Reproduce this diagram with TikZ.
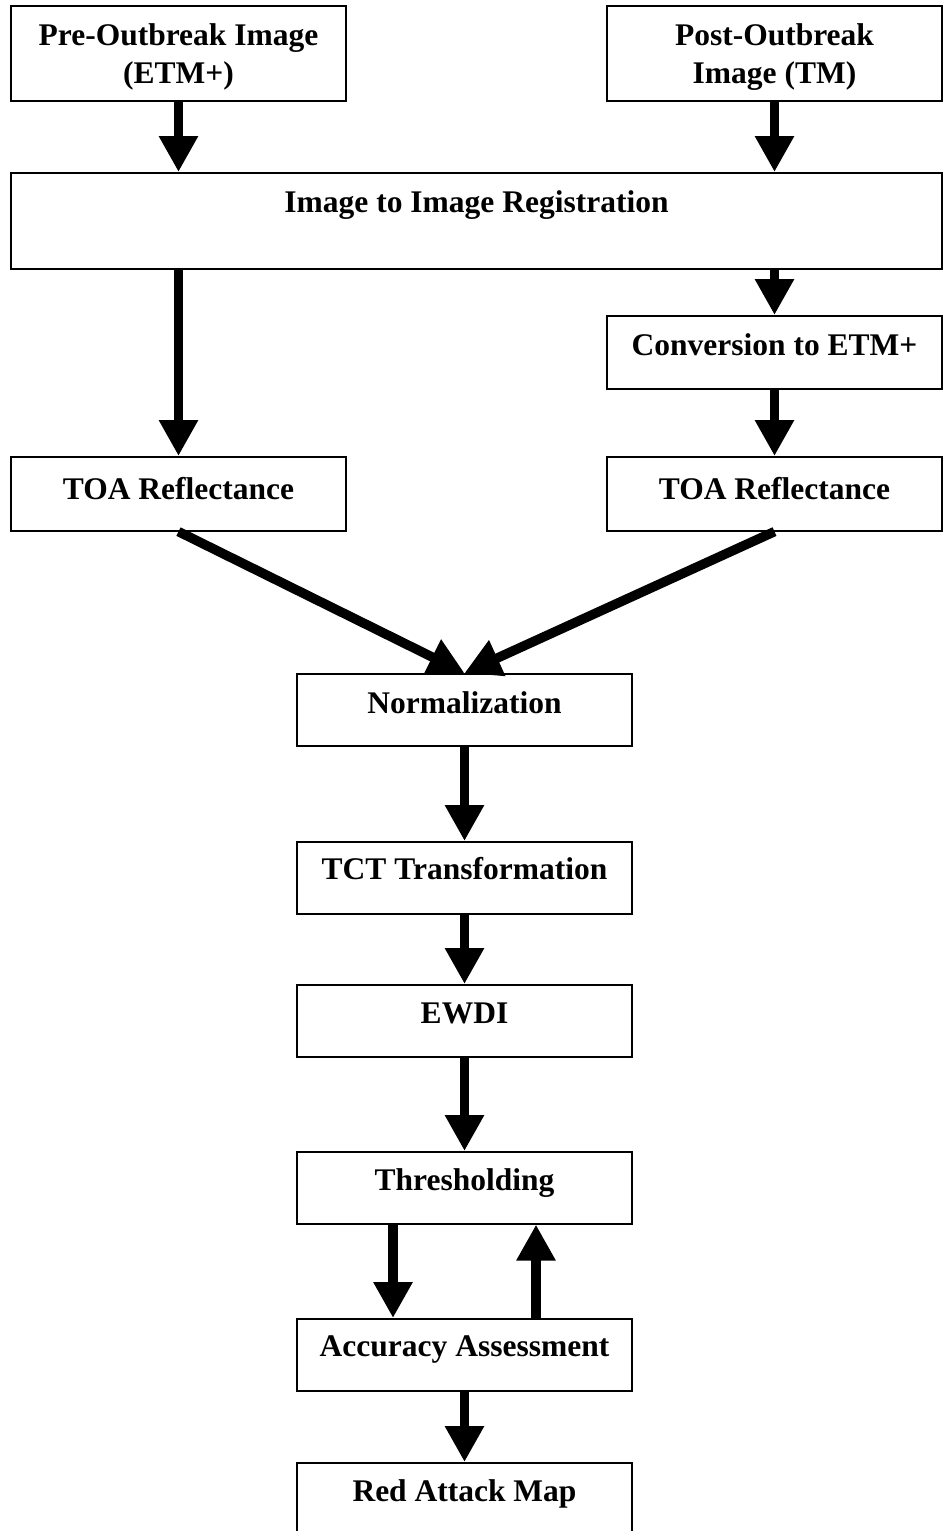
\documentclass[tikz,border=0pt]{standalone}
\usepackage{fontspec}
\setmainfont{Liberation Serif}
\usetikzlibrary{arrows.meta}
\tikzset{
  box/.style={draw=black, line width=1.6pt, rectangle, minimum width=335pt, inner xsep=0pt, inner ysep=0pt, anchor=north,
    font=\bfseries\fontsize{31.5}{38}\selectfont, align=center},
  flow/.style={line width=9.5pt, -{Triangle[length=36pt,width=37pt]}}
}
\begin{document}
\begin{tikzpicture}[x=1pt,y=-1pt]
\clip (0,0) rectangle (948,1531);
\fill[white] (0,0) rectangle (948,1531);
\node[box, text height=40pt, text depth=55pt] (pre) at (178.5,5) {\begin{tabular}[t]{@{}c@{}}Pre-Outbreak Image\\(ETM+)\end{tabular}};
\node[box, text height=40pt, text depth=55pt] (post) at (774.5,5) {\begin{tabular}[t]{@{}c@{}}Post-Outbreak\\Image (TM)\end{tabular}};
\node[box, minimum width=931pt, text height=40pt, text depth=56pt] (reg) at (476.5,172) {Image to Image Registration};
\node[box, text height=40pt, text depth=33pt] (conv) at (774.5,315) {Conversion to ETM+};
\node[box, text height=43pt, text depth=31pt] (toaL) at (178.5,456) {TOA Reflectance};
\node[box, text height=43pt, text depth=31pt] (toaR) at (774.5,456) {TOA Reflectance};
\node[box, text height=40pt, text depth=32pt] (norm) at (464.5,673) {Normalization};
\node[box, text height=38pt, text depth=34pt] (tct) at (464.5,841) {TCT Transformation};
\node[box, text height=39pt, text depth=33pt] (ewdi) at (464.5,984) {EWDI};
\node[box, text height=39pt, text depth=33pt] (thr) at (464.5,1151) {Thresholding};
\node[box, text height=38pt, text depth=34pt] (acc) at (464.5,1318) {Accuracy Assessment};
\node[box, text height=39pt, text depth=50pt] (red) at (464.5,1462) {Red Attack Map};
\draw[flow] (pre.south) -- (pre.south |- reg.north);
\draw[flow] (post.south) -- (post.south |- reg.north);
\draw[flow] (conv.north |- reg.south) -- (conv.north);
\draw[flow] (toaL.north |- reg.south) -- (toaL.north);
\draw[flow] (conv.south) -- (toaR.north);
\draw[flow] (toaL.south) -- (norm.north);
\draw[flow] (toaR.south) -- (norm.north);
\draw[flow] (norm.south) -- (tct.north);
\draw[flow] (tct.south) -- (ewdi.north);
\draw[flow] (ewdi.south) -- (thr.north);
\draw[flow] ([xshift=-71.5pt]thr.south) -- ([xshift=-71.5pt]acc.north);
\draw[flow] ([xshift=71.5pt]acc.north) -- ([xshift=71.5pt]thr.south);
\draw[flow] (acc.south) -- (red.north);
\end{tikzpicture}
\end{document}
